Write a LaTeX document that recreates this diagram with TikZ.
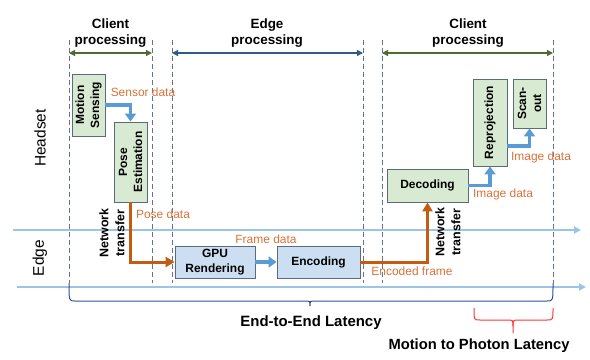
\documentclass[tikz,border=0pt]{standalone}
\usepackage{fontspec}
\setmainfont{Liberation Sans}
\usetikzlibrary{arrows.meta}
\definecolor{gfill}{HTML}{D9EAD3}
\definecolor{bfill}{HTML}{CCDFF2}
\definecolor{bordc}{HTML}{5B6B7D}
\definecolor{arrblue}{HTML}{5B9BD5}
\definecolor{orng}{HTML}{C55A11}
\definecolor{lbl}{HTML}{D9713A}
\definecolor{lightln}{HTML}{9DC3E6}
\definecolor{dashg}{HTML}{66768A}
\definecolor{grnarr}{HTML}{4E6B30}
\definecolor{bluarr}{HTML}{2E5C8A}
\definecolor{brkblue}{HTML}{2F4E9B}
\definecolor{brkred}{HTML}{FF3333}
\begin{document}
\begin{tikzpicture}[x=1bp,y=-1bp,
  box/.style={draw=bordc, line width=0.9bp, inner sep=0pt},
  gbox/.style={box, fill=gfill},
  bbox/.style={box, fill=bfill},
  boxtext/.style={font=\fontsize{12}{15}\selectfont\bfseries, align=center, inner sep=0pt},
  nettext/.style={font=\fontsize{12.5}{16}\selectfont\bfseries, align=center, inner sep=0pt, rotate=90},
  datalbl/.style={text=lbl, font=\fontsize{12}{14}\selectfont, inner sep=0pt},
  head/.style={font=\fontsize{13.5}{16}\selectfont\bfseries, align=center, inner sep=0pt},
  side/.style={font=\fontsize{15.5}{18}\selectfont, rotate=90, inner sep=0pt},
  dashln/.style={dashg, line width=0.9bp, dash pattern=on 5bp off 3bp},
  blueflow/.style={arrblue, line width=3.2bp, -{Triangle[length=8bp,width=11bp]}},
  orangeflow/.style={orng, line width=3bp, -{Triangle[length=9bp,width=10bp]}},
  timeline/.style={lightln, line width=2bp, -{Triangle[length=7bp,width=7bp]}},
  span/.style={line width=1.2bp, {Triangle[length=6bp,width=6bp]}-{Triangle[length=6bp,width=6bp]}},
]
\useasboundingbox (0,0) rectangle (590,359);

% dashed separators
\foreach \xx in {69,152,172,363,382,553}
  \draw[dashln] (\xx,40) -- (\xx,283);

% phase spans
\coordinate (c1a) at (69,53); \coordinate (c1b) at (152,53);
\coordinate (e1a) at (172,53); \coordinate (e1b) at (363,53);
\coordinate (c2a) at (382,53); \coordinate (c2b) at (553,53);
\draw[span, grnarr] (c1a) -- (c1b);
\draw[span, bluarr] (e1a) -- (e1b);
\draw[span, grnarr] (c2a) -- (c2b);
\node[head] (h1) at (110.5,33) {Client\\processing};
\node[head] (h2) at (267,33) {Edge\\processing};
\node[head] (h3) at (468,33) {Client\\processing};

% timelines
\coordinate (t1a) at (13,230); \coordinate (t1b) at (581,230);
\coordinate (t2a) at (17,287); \coordinate (t2b) at (586,287);
\draw[timeline] (t1a) -- (t1b);
\draw[timeline] (t2a) -- (t2b);

% side labels
\node[side] (hs) at (40,138) {Headset};
\node[side] (ed) at (40,258) {Edge};

% boxes
\node[gbox, minimum width=33bp, minimum height=62bp] (ms) at (88.5,105) {};
\node[boxtext, rotate=90] at (ms.center) {Motion\\Sensing};
\node[gbox, minimum width=33bp, minimum height=80bp] (pe) at (130.5,162) {};
\node[boxtext, rotate=90] at (pe.center) {Pose\\Estimation};
\node[bbox, minimum width=80bp, minimum height=32bp, boxtext, font=\fontsize{12}{14.5}\selectfont\bfseries] (gpu) at (215,262) {GPU\\Rendering};
\node[bbox, minimum width=83bp, minimum height=32bp, boxtext] (enc) at (318.5,262) {Encoding};
\node[gbox, minimum width=81bp, minimum height=33bp, boxtext] (dec) at (427.5,185.5) {Decoding};
\node[gbox, minimum width=34bp, minimum height=87bp] (rep) at (490,122.5) {};
\node[boxtext, rotate=90] at (rep.center) {Reprojection};
\node[gbox, minimum width=33bp, minimum height=49bp] (so) at (529.5,103.5) {};
\node[boxtext, rotate=90] at (so.center) {Scan-\\out};

% flows
\draw[blueflow] (ms.east) -| (pe.north);
\draw[orangeflow] (pe.south) |- (gpu.west);
\draw[blueflow] (gpu.east) -- (enc.west);
\draw[orangeflow] (enc.east) -| (dec.south);
\draw[blueflow] (dec.east) -| (rep.south);
\draw[blueflow] (rep.east |- 0,146) -| (so.south);

% data labels
\node[datalbl] (l1) at (143,92) {Sensor data};
\node[datalbl] (l2) at (163,214) {Pose data};
\node[datalbl] (l3) at (266,239) {Frame data};
\node[datalbl] (l4) at (412,271) {Encoded frame};
\node[datalbl] (l5) at (503,194) {Image data};
\node[datalbl] (l6) at (541,157) {Image data};

% network transfer
\node[nettext] (n1) at (112,233) {Network\\transfer};
\node[nettext] (n2) at (448,232) {Network\\transfer};

% brackets
\draw[brkblue, line width=1bp] (69,283) .. controls (69,301) .. (75,301) -- (305,301)
  .. controls (310,301) .. (310,306) .. controls (310,301) .. (315,301) -- (547,301)
  .. controls (553,301) .. (553,283);
\node[head, font=\fontsize{15}{16}\selectfont\bfseries] (e2e) at (311,323) {End-to-End Latency};
\draw[brkred, line width=1bp] (474,308) .. controls (474,320) .. (480,320) -- (507,320)
  .. controls (513,320) .. (513,326) -- (513,333);
\draw[brkred, line width=1bp] (513,326) .. controls (513,320) .. (519,320) -- (547,320)
  .. controls (553,320) .. (553,308);
\node[head, font=\fontsize{14.8}{16}\selectfont\bfseries] (mtp) at (479,346) {Motion to Photon Latency};
\end{tikzpicture}
\end{document}
